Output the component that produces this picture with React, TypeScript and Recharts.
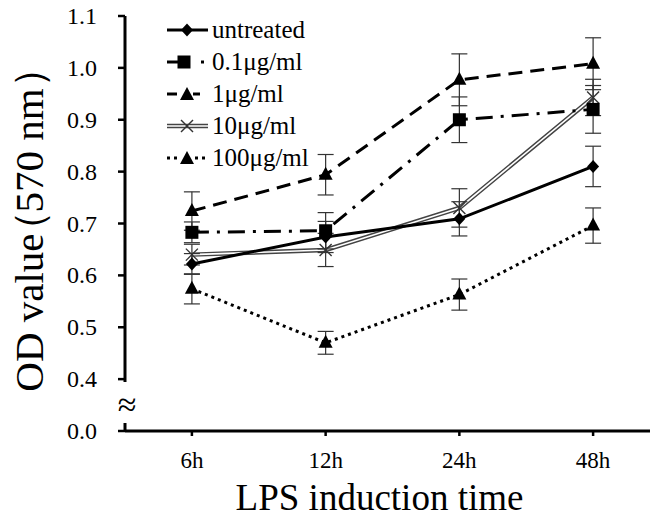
import React from 'react';
import { LineChart, Line, XAxis, YAxis, ErrorBar, Label } from 'recharts';

const SERIF = "'Liberation Serif', 'Times New Roman', serif";

const categories = ['6h', '12h', '24h', '48h'];
const untreated = [0.622, 0.674, 0.709, 0.81];
const untreatedErr = [0.02, 0.03, 0.033, 0.039];
const dose01 = [0.683, 0.686, 0.9, 0.92];
const dose01Err = [0.02, 0.035, 0.044, 0.046];
const dose1 = [0.724, 0.794, 0.977, 1.008];
const dose1Err = [0.037, 0.039, 0.05, 0.05];
const dose10 = [0.64, 0.649, 0.73, 0.943];
const dose10Err = [0.02, 0.032, 0.037, 0.035];
const dose100 = [0.574, 0.47, 0.563, 0.696];
const dose100Err = [0.029, 0.022, 0.03, 0.034];
const yTicks = [0.3, 0.4, 0.5, 0.6, 0.7, 0.8, 0.9, 1.0, 1.1];
const legendNames = ['untreated', '0.1μg/ml', '1μg/ml', '10μg/ml', '100μg/ml'];

const rows = categories.map((c, i) => ({
  time: c,
  u: untreated[i], uErr: untreatedErr[i],
  d01: dose01[i], d01Err: dose01Err[i],
  d1: dose1[i], d1Err: dose1Err[i],
  d10: dose10[i], d10Err: dose10Err[i],
  d100: dose100[i], d100Err: dose100Err[i],
}));

const Diamond = ({ cx, cy }: any) => (
  <path d={`M${cx},${cy - 6.5}L${cx + 6},${cy}L${cx},${cy + 6.5}L${cx - 6},${cy}Z`} fill="#000" />
);
const Square = ({ cx, cy }: any) => (
  <rect x={cx - 6.5} y={cy - 6.5} width={13} height={13} fill="#000" />
);
const Tri = ({ cx, cy }: any) => (
  <path d={`M${cx},${cy - 8}L${cx + 7},${cy + 5}L${cx - 7},${cy + 5}Z`} fill="#000" />
);
const XMark = ({ cx, cy }: any) => (
  <g stroke="#333" strokeWidth={1.4}>
    <line x1={cx - 6} y1={cy - 6} x2={cx + 6} y2={cy + 6} />
    <line x1={cx - 6} y1={cy + 6} x2={cx + 6} y2={cy - 6} />
  </g>
);

const dotOf = (Comp: any) => (p: any) => <Comp key={`d-${p.index}`} cx={p.cx} cy={p.cy} />;

const YTick = (props: any) => {
  const { x, y, payload } = props;
  const v = payload.value;
  const label = v < 0.35 ? '0.0' : v.toFixed(1);
  const ax = x + 28;
  return (
    <g>
      <text x={x} y={y} textAnchor="end" dominantBaseline="central" fontSize={24} fontFamily={SERIF} fill="#000">
        {label}
      </text>
      {v < 0.35 && (
        <g>
          <rect x={ax - 5} y={y - 49} width={10} height={41} fill="#fff" />
          <text x={ax + 2} y={y - 27} textAnchor="middle" dominantBaseline="central" fontSize={34} fontFamily={SERIF} fill="#000">
            ≈
          </text>
        </g>
      )}
    </g>
  );
};

const XTitle = (props: any) => {
  const vb = props.viewBox || { x: 125, y: 431, width: 535, height: 85 };
  return (
    <text x={vb.x + vb.width / 2 - 13} y={vb.y + 78.5} textAnchor="middle" fontSize={37} fontFamily={SERIF} fill="#000">
      LPS induction time
    </text>
  );
};

const YTitle = (props: any) => {
  const vb = props.viewBox || { x: 0, y: 16, width: 125, height: 415 };
  const cx = vb.x + 29;
  const cy = vb.y + vb.height / 2 - 4;
  return (
    <text
      x={cx}
      y={cy}
      transform={`rotate(-90 ${cx} ${cy})`}
      textAnchor="middle"
      dominantBaseline="central"
      fontSize={41}
      fontFamily={SERIF}
      fill="#000"
    >
      OD value<tspan dx={-18}>（</tspan><tspan dx={-2}>570 nm</tspan>）
    </text>
  );
};

const errProps = { width: 8, stroke: '#333', strokeWidth: 1.2, direction: 'y' as const };

const LegendSample = ({ i }: { i: number }) => {
  const cy = 16;
  const cx = 22;
  if (i === 0)
    return (
      <g>
        <line x1={2} y1={cy} x2={43} y2={cy} stroke="#000" strokeWidth={3} />
        <Diamond cx={cx} cy={cy} />
      </g>
    );
  if (i === 1)
    return (
      <g>
        <line x1={2} y1={cy} x2={16} y2={cy} stroke="#000" strokeWidth={3} />
        <Square cx={19} cy={cy} />
        <rect x={36} y={cy - 1.5} width={3} height={3} fill="#000" />
      </g>
    );
  if (i === 2)
    return (
      <g>
        <line x1={2} y1={cy} x2={12} y2={cy} stroke="#000" strokeWidth={3} />
        <Tri cx={cx} cy={cy + 1} />
        <line x1={28} y1={cy} x2={35} y2={cy} stroke="#000" strokeWidth={3} />
      </g>
    );
  if (i === 3)
    return (
      <g>
        <line x1={2} y1={cy} x2={43} y2={cy} stroke="#444" strokeWidth={4.5} />
        <line x1={2} y1={cy} x2={43} y2={cy} stroke="#fff" strokeWidth={1.6} />
        <XMark cx={cx} cy={cy} />
      </g>
    );
  return (
    <g>
      <line x1={2} y1={cy} x2={14} y2={cy} stroke="#000" strokeWidth={3} strokeDasharray="3 4" />
      <Tri cx={cx} cy={cy + 1} />
      <line x1={30} y1={cy} x2={44} y2={cy} stroke="#000" strokeWidth={3} strokeDasharray="3 4" />
    </g>
  );
};

const LegendBox = () => (
  <div style={{ position: 'absolute', left: 165, top: 14, fontFamily: SERIF, fontSize: 25, color: '#000' }}>
    {legendNames.map((n, i) => (
      <div key={n} style={{ display: 'flex', alignItems: 'center', height: 32 }}>
        <svg width={45} height={32} style={{ display: 'block' }}>
          <LegendSample i={i} />
        </svg>
        <span style={{ marginLeft: 2, lineHeight: '32px' }}>{n}</span>
      </div>
    ))}
  </div>
);

export default function App() {
  return (
    <div style={{ position: 'absolute', left: 0, top: 0, width: 650, height: 516, overflow: 'hidden', background: '#fff' }}>
      <LineChart width={660} height={516} data={rows} margin={{ top: 16, right: 0, bottom: 0, left: 0 }}>
        <XAxis
          dataKey="time"
          height={85}
          interval={0}
          padding={{ left: 66.9, right: 66.9 }}
          axisLine={{ stroke: '#000', strokeWidth: 3 }}
          tickLine={{ stroke: '#000', strokeWidth: 2.5 }}
          tickSize={5}
          tickMargin={16}
          tick={{ fill: '#000', fontSize: 23, fontFamily: SERIF }}
        >
          <Label content={XTitle} />
        </XAxis>
        <YAxis
          type="number"
          domain={[0.3, 1.1]}
          ticks={yTicks}
          interval={0}
          allowDataOverflow
          width={125}
          axisLine={{ stroke: '#000', strokeWidth: 3 }}
          tickLine={{ stroke: '#000', strokeWidth: 2.5 }}
          tickSize={7}
          tickMargin={21}
          tick={<YTick />}
        >
          <Label content={YTitle} />
        </YAxis>
        <Line dataKey="d10" type="linear" stroke="#444" strokeWidth={4.5} dot={false} activeDot={false} isAnimationActive={false}>
          <ErrorBar dataKey="d10Err" {...errProps} />
        </Line>
        <Line dataKey="d10" type="linear" stroke="#fff" strokeWidth={1.6} dot={dotOf(XMark)} activeDot={false} isAnimationActive={false} />
        <Line dataKey="u" type="linear" stroke="#000" strokeWidth={3} dot={dotOf(Diamond)} activeDot={false} isAnimationActive={false}>
          <ErrorBar dataKey="uErr" {...errProps} />
        </Line>
        <Line dataKey="d100" type="linear" stroke="#000" strokeWidth={3} strokeDasharray="3 4" dot={dotOf(Tri)} activeDot={false} isAnimationActive={false}>
          <ErrorBar dataKey="d100Err" {...errProps} />
        </Line>
        <Line dataKey="d1" type="linear" stroke="#000" strokeWidth={3} strokeDasharray="14 8" dot={dotOf(Tri)} activeDot={false} isAnimationActive={false}>
          <ErrorBar dataKey="d1Err" {...errProps} />
        </Line>
        <Line dataKey="d01" type="linear" stroke="#000" strokeWidth={3} strokeDasharray="17 8 3 8" dot={dotOf(Square)} activeDot={false} isAnimationActive={false}>
          <ErrorBar dataKey="d01Err" {...errProps} />
        </Line>
      </LineChart>
      <LegendBox />
    </div>
  );
}
